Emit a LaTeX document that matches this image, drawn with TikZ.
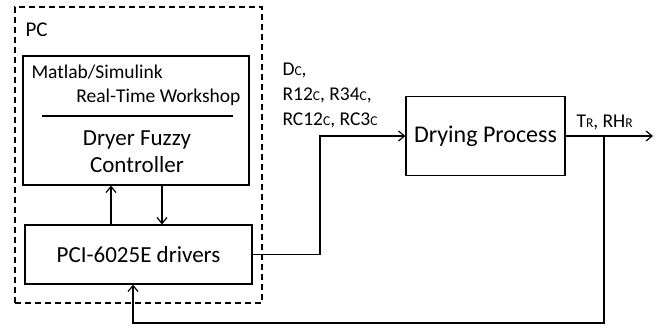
\documentclass[tikz,border=0pt]{standalone}
\usepackage{fontspec}
\setmainfont{Carlito}
\usetikzlibrary{arrows.meta}
\newcommand{\lowc}[1]{{\fontsize{13.5}{13.5}\selectfont #1}}
\begin{document}
\begin{tikzpicture}[x=1pt, y=-1pt, >={Straight Barb[length=6pt,width=10pt]},
  box/.style={draw, line width=1.2pt, inner sep=0pt},
  wire/.style={line width=1.2pt}]
  \useasboundingbox (0,0) rectangle (659,327);

  \node[box, dash pattern=on 6pt off 4pt, minimum width=247pt, minimum height=296pt] (pc) at (138.5,155) {};
  \node[anchor=west, font=\fontsize{21}{21}\selectfont] (pclabel) at (22,30) {PC};

  \node[box, minimum width=226pt, minimum height=129pt] (ctrl) at (136,120.5) {};
  \node[anchor=west, font=\fontsize{19.5}{19.5}\selectfont] (matlab) at (28,72) {Matlab/Simulink};
  \node[anchor=east, font=\fontsize{19.5}{19.5}\selectfont] (rtw) at (244,97) {Real-Time Workshop};
  \coordinate (sepl) at (42,116);
  \coordinate (sepr) at (233,116);
  \draw[wire] (sepl) -- (sepr);
  \node[font=\fontsize{23}{23}\selectfont] (fuzzy) at (137,140) {Dryer Fuzzy};
  \node[font=\fontsize{23}{23}\selectfont] (contr) at (137,165) {Controller};

  \node[box, minimum width=227pt, minimum height=59pt, font=\fontsize{23}{23}\selectfont] (drv) at (138.5,254.5) {PCI-6025E drivers};

  \node[box, minimum width=159pt, minimum height=79pt, font=\fontsize{24}{24}\selectfont] (dry) at (485.5,136) {Drying Process};

  % links inside the PC
  \coordinate (up) at (111,0);
  \coordinate (down) at (162,0);
  \draw[wire, ->] (up |- drv.north) -- (up |- ctrl.south);
  \draw[wire, ->] (down |- ctrl.south) -- (down |- drv.north);

  % control signals
  \coordinate (bend) at (320,0);
  \draw[wire, ->] (drv.east) -- (bend |- drv.east) -- (bend |- dry.west) -- (dry.west);
  \node[anchor=west, align=left, font=\fontsize{19.5}{25}\selectfont] (sig) at (279,95)
    {D\lowc{C},\\ R12\lowc{C}, R34\lowc{C},\\ RC12\lowc{C}, RC3\lowc{C}};

  % measured outputs and feedback
  \coordinate (out) at (653,0);
  \coordinate (tap) at (604,0);
  \coordinate (low) at (133,323);
  \draw[wire, ->] (dry.east) -- (out |- dry.east);
  \node[anchor=west, font=\fontsize{19.5}{19.5}\selectfont] (meas) at (573,122) {T\lowc{R}, RH\lowc{R}};
  \draw[wire, ->] (tap |- dry.east) |- (low) -- (low |- drv.south);
\end{tikzpicture}
\end{document}
